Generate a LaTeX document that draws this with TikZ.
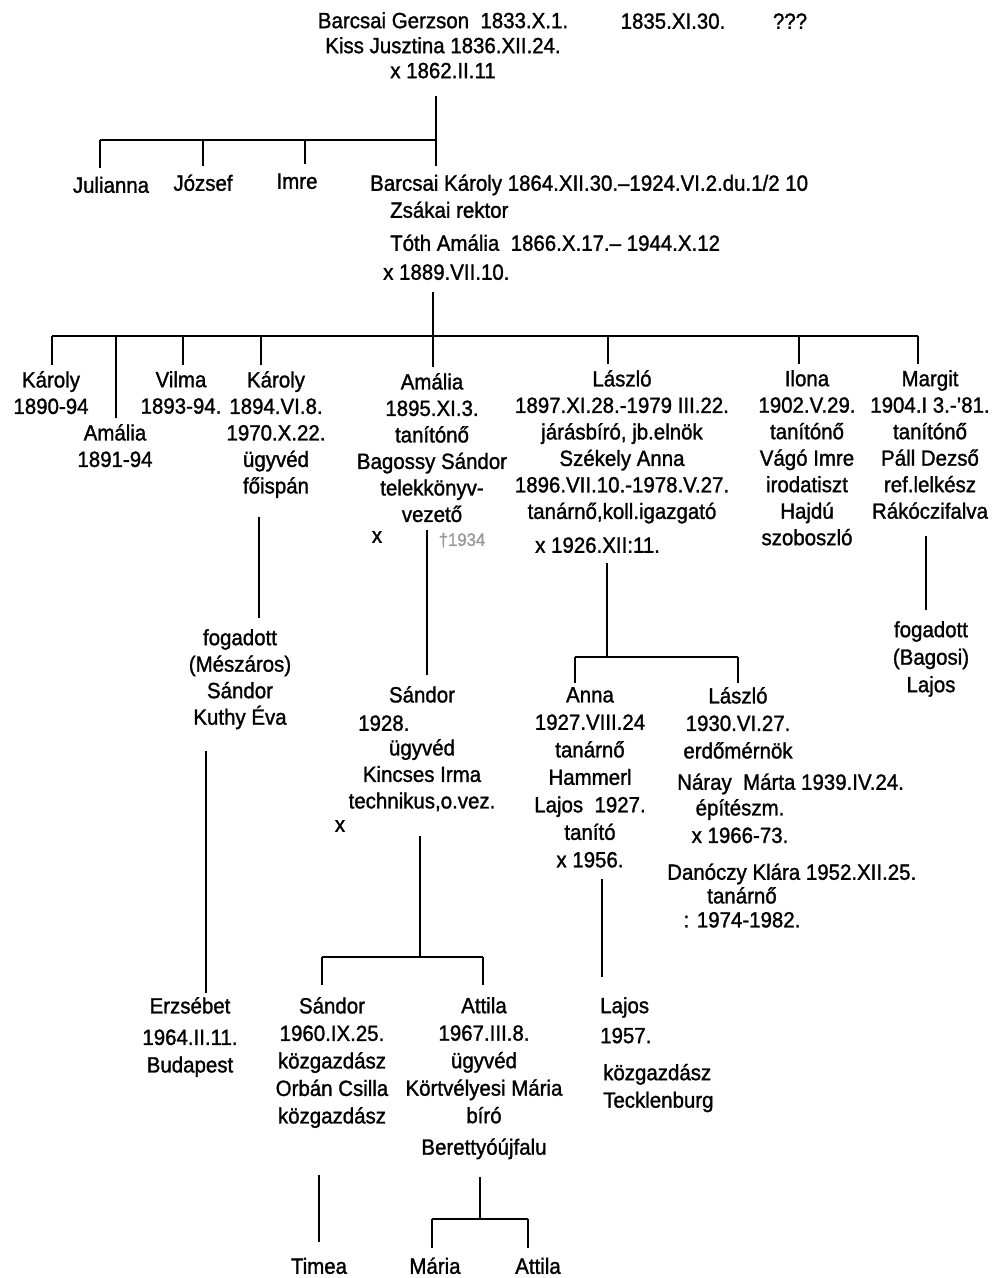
\documentclass[tikz,border=0pt]{standalone}
\usepackage{fontspec}
\setmainfont[FakeStretch=0.93, FakeBold=1.3]{Liberation Sans}

\begin{document}
\begin{tikzpicture}[x=1pt, y=-1pt,
    every node/.style={font=\fontsize{22}{26.5}\selectfont, inner sep=0pt},
    person/.style={align=center, anchor=north, execute at begin node=\strut, execute at end node=\strut},
    wide/.style={font=\fontsize{22}{27.5}\selectfont},
    line/.style={line width=1.8pt},
    drop/.style={line, shorten >=6pt}]
    \useasboundingbox (0,0) rectangle (1008,1278);

    % first generation
    \node[person, font=\fontsize{22}{25}\selectfont] (gerzson) at (443,12) {Barcsai Gerzson~~1833.X.1.\\Kiss Jusztina 1836.XII.24.\\x 1862.II.11};
    \node[person] (halal) at (673,10) {1835.XI.30.};
    \node[person] (ismeretlen) at (790,10) {???};

    % children of Gerzson
    \node[person] (julianna) at (111,174) {Julianna};
    \node[person] (jozsef) at (203,172) {József};
    \node[person] (imre) at (297,170) {Imre};
    \node[person, anchor=north west] (karoly) at (370,172) {Barcsai Károly 1864.XII.30.–1924.VI.2.du.1/2 10};
    \node[person, anchor=north west] (zsakai) at (390,199) {Zsákai rektor};
    \node[person, anchor=north west] (toth) at (390,232) {Tóth Amália~~1866.X.17.– 1944.X.12};
    \node[person, anchor=north west] (eskuvo) at (383,261) {x 1889.VII.10.};

    \coordinate (g1) at (100,140);
    \coordinate (g2) at (203,140);
    \coordinate (g3) at (305,140);
    \coordinate (g4) at (436,140);
    \draw[line, shorten <=10pt] (g4 |- gerzson.south) -- (g4);
    \draw[line] (g1) -- (g4);
    \draw[drop] (g1) -- (g1 |- julianna.north);
    \draw[drop] (g2) -- (g2 |- jozsef.north);
    \draw[drop] (g3) -- (g3 |- imre.north);
    \draw[drop] (g4) -- (g4 |- karoly.north);

    % children of Karoly
    \node[person] (k1890) at (51,371) {Károly\\1890-94};
    \node[person] (a1891) at (115,424) {Amália\\1891-94};
    \node[person] (vilma) at (181,371) {Vilma\\1893-94.};
    \node[person] (k1894) at (276,371) {Károly\\1894.VI.8.\\1970.X.22.\\ügyvéd\\főispán};
    \node[person] (a1895) at (432,373) {Amália\\1895.XI.3.\\tanítónő\\Bagossy Sándor\\telekkönyv-\\vezető};
    \node[person] (laszlo) at (622,370) {László\\1897.XI.28.-1979 III.22.\\járásbíró, jb.elnök\\Székely Anna\\1896.VII.10.-1978.V.27.\\tanárnő,koll.igazgató};
    \node[person, anchor=north west] (lhazas) at (535,534) {x 1926.XII:11.};
    \node[person] (ilona) at (807,370) {Ilona\\1902.V.29.\\tanítónő\\Vágó Imre\\irodatiszt\\Hajdú\\szoboszló};
    \node[person] (margit) at (930,370) {Margit\\1904.I 3.-'81.\\tanítónő\\Páll Dezső\\ref.lelkész\\Rákóczifalva};

    \coordinate (c1) at (52,336);
    \coordinate (c2) at (116,336);
    \coordinate (c3) at (183,336);
    \coordinate (c4) at (261,336);
    \coordinate (c5) at (433,336);
    \coordinate (c6) at (608,336);
    \coordinate (c7) at (799,336);
    \coordinate (c8) at (918,336);
    \draw[line, shorten <=4pt] (c5 |- eskuvo.south) -- (c5);
    \draw[line] (c1) -- (c8);
    \draw[drop] (c1) -- (c1 |- k1890.north);
    \draw[drop] (c2) -- (c2 |- a1891.north);
    \draw[drop] (c3) -- (c3 |- vilma.north);
    \draw[drop] (c4) -- (c4 |- k1894.north);
    \draw[drop] (c5) -- (c5 |- a1895.north);
    \draw[drop] (c6) -- (c6 |- laszlo.north);
    \draw[drop] (c7) -- (c7 |- ilona.north);
    \draw[drop] (c8) -- (c8 |- margit.north);

    % grandchildren
    \node[person] (fogadott) at (240,629) {fogadott\\(Mészáros)\\Sándor\\Kuthy Éva};
    \node (valas) at (377,537) {x};
    \node[text=gray!80, font=\fontsize{18}{20}\selectfont] (gyasz) at (462,540) {†1934};
    \node[person] (sandor) at (422,686) {Sándor\\[26.5pt]ügyvéd\\Kincses Irma\\technikus,o.vez.};
    \node[person, anchor=north west] (ev1928) at (358,712) {1928.};
    \node (valas2) at (340,826) {x};
    \node[person, wide] (anna) at (590,687) {Anna\\1927.VIII.24\\tanárnő\\Hammerl\\Lajos~~1927.\\tanító\\x 1956.};
    \node[person, wide] (l1930) at (738,687) {László\\1930.VI.27.\\erdőmérnök};
    \node[person, anchor=north west] (naray) at (677,771) {Náray~~Márta 1939.IV.24.};
    \node[person, wide] (epitesz) at (740,799) {építészm.\\x 1966-73.};
    \node[person, anchor=north west] (danoczy) at (667,861) {Danóczy Klára 1952.XII.25.};
    \node[person] (tanarno) at (742,887) {tanárnő\\[-2.5pt]: 1974-1982.};
    \node[person, wide] (fogadott2) at (931,621) {fogadott\\(Bagosi)\\Lajos};

    \coordinate (k1894stem) at (259,0);
    \coordinate (a1895stem) at (427,0);
    \coordinate (margitstem) at (926,0);
    \draw[line, shorten <=15pt, shorten >=11pt] (k1894stem |- k1894.south) -- (k1894stem |- fogadott.north);
    \draw[line, shorten >=11pt] (a1895stem |- a1895.south) -- (a1895stem |- sandor.north);
    \draw[line, shorten <=9pt, shorten >=11pt] (margitstem |- margit.south) -- (margitstem |- fogadott2.north);

    \coordinate (d1) at (575,657);
    \coordinate (d2) at (607,657);
    \coordinate (d3) at (738,657);
    \draw[line, shorten <=2pt] (d2 |- lhazas.south) -- (d2);
    \draw[line] (d1) -- (d3);
    \draw[line, shorten >=4pt] (d1) -- (d1 |- anna.north);
    \draw[line, shorten >=4pt] (d3) -- (d3 |- l1930.north);

    % great-grandchildren
    \node[person, wide] (erzsebet) at (190,997) {Erzsébet\\[4pt]1964.II.11.\\Budapest};
    \node[person, wide] (s1960) at (332,997) {Sándor\\1960.IX.25.\\közgazdász\\Orbán Csilla\\közgazdász};
    \node[person, wide] (attila) at (484,997) {Attila\\1967.III.8.\\ügyvéd\\Körtvélyesi Mária\\bíró\\[4pt]Berettyóújfalu};
    \node[person, wide, align=left, anchor=north west] (lajos) at (600,997) {Lajos\\[2.5pt]1957.\\[9.5pt]\hspace*{3pt}közgazdász\\\hspace*{3pt}Tecklenburg};

    \coordinate (erzsebetstem) at (206,0);
    \coordinate (annastem) at (602,0);
    \draw[line, shorten <=18pt, shorten >=4pt] (erzsebetstem |- fogadott.south) -- (erzsebetstem |- erzsebet.north);
    \draw[line, shorten <=3pt, shorten >=20pt] (annastem |- anna.south) -- (annastem |- lajos.north);

    \coordinate (e1) at (322,957);
    \coordinate (e2) at (420,957);
    \coordinate (e3) at (483,957);
    \draw[line, shorten <=19pt] (e2 |- sandor.south) -- (e2);
    \draw[line] (e1) -- (e3);
    \draw[line, shorten >=12pt] (e1) -- (e1 |- s1960.north);
    \draw[line, shorten >=12pt] (e3) -- (e3 |- attila.north);

    % last row
    \node[person] (timea) at (319,1255) {Timea};
    \node[person] (maria) at (435,1255) {Mária};
    \node[person] (attila2) at (538,1255) {Attila};

    \coordinate (timeastem) at (319,0);
    \draw[line, shorten <=43pt, shorten >=13pt] (timeastem |- s1960.south) -- (timeastem |- timea.north);
    \coordinate (f1) at (432,1219);
    \coordinate (f2) at (480,1219);
    \coordinate (f3) at (528,1219);
    \draw[line, shorten <=14pt] (f2 |- attila.south) -- (f2);
    \draw[line] (f1) -- (f3);
    \draw[line, shorten >=7pt] (f1) -- (f1 |- maria.north);
    \draw[line, shorten >=7pt] (f3) -- (f3 |- attila2.north);
\end{tikzpicture}
\end{document}
